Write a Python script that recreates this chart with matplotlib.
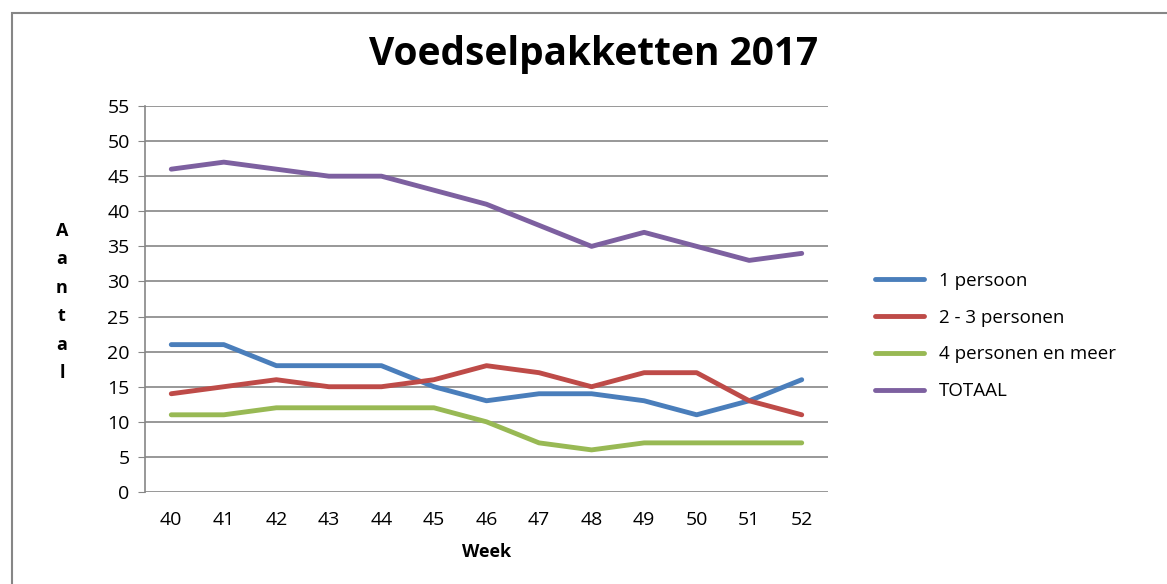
import matplotlib.pyplot as plt
from matplotlib.patches import Rectangle

weeks = [40, 41, 42, 43, 44, 45, 46, 47, 48, 49, 50, 51, 52]
een_persoon = [21, 21, 18, 18, 18, 15, 13, 14, 14, 13, 11, 13, 16]
twee_drie = [14, 15, 16, 15, 15, 16, 18, 17, 15, 17, 17, 13, 11]
vier_meer = [11, 11, 12, 12, 12, 12, 10, 7, 6, 7, 7, 7, 7]
totaal = [46, 47, 46, 45, 45, 43, 41, 38, 35, 37, 35, 33, 34]

series = [
    ("1 persoon", een_persoon, "#4a7ebb"),
    ("2 - 3 personen", twee_drie, "#be4b48"),
    ("4 personen en meer", vier_meer, "#98b954"),
    ("TOTAAL", totaal, "#7d60a0"),
]

plt.rcParams['font.family'] = ['Open Sans', 'DejaVu Sans']

fig = plt.figure(figsize=(11.67, 5.84), dpi=100)
fig.patches.append(Rectangle((12 / 1167, -0.1), 1.2, 1 - 13 / 584 + 0.1,
                             transform=fig.transFigure, fill=False,
                             edgecolor="#868686", linewidth=1.5))

ax = fig.add_axes([145 / 1167, 1 - 492 / 584, (828 - 145) / 1167, (492 - 106) / 584])

for name, vals, col in series:
    ax.plot(weeks, vals, color=col, linewidth=3.5, label=name, solid_capstyle="round")

ax.set_xlim(39.5, 52.5)
ax.set_ylim(0, 55)
ax.set_yticks(range(0, 56, 5))
ax.set_xticks(weeks)
ax.grid(axis="y", color="#868686", linewidth=1.2)
ax.set_axisbelow(True)
for s in ["top", "right", "bottom"]:
    ax.spines[s].set_visible(False)
ax.spines["left"].set_color("#868686")
ax.spines["left"].set_linewidth(1.2)
ax.tick_params(axis="y", length=5, color="#868686", labelsize=14, pad=6)
ax.tick_params(axis="x", length=0, labelsize=14, pad=14)

ax.set_xlabel("Week", fontsize=13, fontweight="bold", labelpad=10)
fig.text(62 / 1167, 1 - 302 / 584, "A\na\nn\nt\na\nl", ha="center", va="center",
         fontsize=13, fontweight="bold", linespacing=1.75)

fig.text(594 / 1167, 1 - 55 / 584, "Voedselpakketten 2017", ha="center", va="center",
         fontsize=28, fontweight="bold")

ax.legend(loc="center left", bbox_to_anchor=(858 / 1167, 1 - 336 / 584),
          bbox_transform=fig.transFigure, frameon=False, fontsize=13.5,
          handlelength=2.6, labelspacing=1.0)

plt.savefig("out.png", dpi=100)
